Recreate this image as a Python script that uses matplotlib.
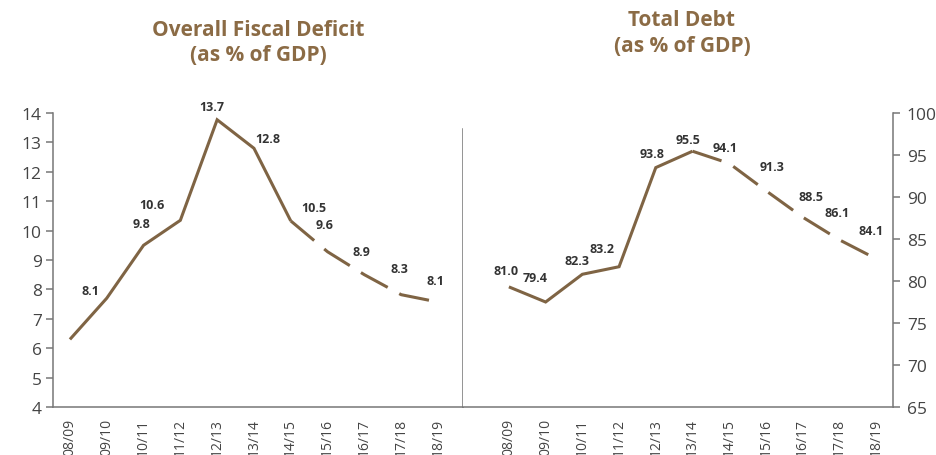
import matplotlib
matplotlib.use("Agg")
import matplotlib.pyplot as plt

# fiscal years on the x axis
years = ["08/09", "09/10", "10/11", "11/12", "12/13", "13/14",
         "14/15", "15/16", "16/17", "17/18", "18/19"]

# overall fiscal deficit (% of GDP), line as drawn
deficit = [6.3, 7.7, 9.5, 10.35, 13.77, 12.8, 10.33, 9.28, 8.5, 7.82, 7.57]
deficit_solid_until = 6   # dashed from here on
deficit_labels = ["8.1", "9.8", "10.6", "13.7", "12.8", "10.5", "9.6", "8.9", "8.3", "8.1"]
deficit_label_idx = [1, 2, 2, 4, 5, 6, 7, 8, 9, 10]

# total debt (% of GDP), line as drawn
debt = [79.3, 77.5, 80.8, 81.7, 93.5, 95.45, 94.0, 90.75, 87.6, 84.9, 82.65]
debt_solid_until = 5
debt_labels = ["81.0", "79.4", "82.3", "83.2", "93.8", "95.5", "94.1", "91.3", "88.5", "86.1", "84.1"]
debt_label_idx = [0, 1, 2, 3, 4, 5, 6, 7, 8, 9, 10]

# label offsets in pixels (dx, dy) from the point they belong to
deficit_off = [(-16, 8), (-2, 22), (8, 41), (-5, 13), (14, 10), (23, 13), (-3, 27), (-3, 23), (-2, 26), (-3, 22)]
debt_off = [(-3, 16), (-10, 24), (-5, 14), (-17, 18), (-4, 14), (-4, 12), (-4, 16), (6, 24), (8, 21), (-2, 27), (-5, 28)]

line_c = "#7f6444"
title_c = "#8b6b45"
txt_c = "#444444"
spine_c = "#777777"
font = "Open Sans"

fig = plt.figure(figsize=(9.36, 4.56), dpi=100)
W, H = 936, 456
bot, top = 1 - 408 / H, 1 - 114 / H
ax1 = fig.add_axes([53 / W, bot, (463 - 53) / W, top - bot])
ax2 = fig.add_axes([463 / W, bot, (893 - 463) / W, top - bot])

x = list(range(len(years)))


def draw(ax, vals, split, labels, idx, offs):
    ax.plot(x[:split + 1], vals[:split + 1], color=line_c, lw=2.2,
            solid_capstyle="butt", solid_joinstyle="miter")
    ax.plot(x[split:], vals[split:], color=line_c, lw=2.2,
            dashes=(10, 4.3), dash_capstyle="butt")
    for t, i, (dx, dy) in zip(labels, idx, offs):
        ax.annotate(t, (x[i], vals[i]), xytext=(dx, dy), textcoords="offset pixels",
                    ha="center", va="center", fontsize=9, fontweight="bold",
                    color="#333333", family=font)
    ax.set_xticks(x)
    ax.set_xticklabels(years, rotation=90, fontsize=10, color=txt_c, family=font)
    ax.tick_params(axis="x", length=0, pad=8)
    for s in ax.spines.values():
        s.set_color(spine_c)
        s.set_linewidth(1.1)


draw(ax1, deficit, deficit_solid_until, deficit_labels, deficit_label_idx, deficit_off)
ax1.set_xlim(-0.46, 10.68)
ax1.set_ylim(4, 14)
ax1.set_yticks(range(4, 15))
ax1.spines["top"].set_visible(False)
ax1.spines["right"].set_bounds(4, 13.45)
ax1.tick_params(axis="y", length=5, width=1.1, color=spine_c, pad=3,
                labelsize=12.5, labelcolor=txt_c)
for lb in ax1.get_yticklabels():
    lb.set_family(font)

draw(ax2, debt, debt_solid_until, debt_labels, debt_label_idx, debt_off)
ax2.set_xlim(-1.25, 10.46)
ax2.set_ylim(65, 100)
ax2.set_yticks(range(65, 101, 5))
ax2.spines["top"].set_visible(False)
ax2.spines["left"].set_visible(False)
ax2.yaxis.tick_right()
ax2.tick_params(axis="y", length=5, width=1.1, color=spine_c, pad=5,
                labelsize=12.5, labelcolor=txt_c)
for lb in ax2.get_yticklabels():
    lb.set_family(font)

tk = dict(ha="center", va="center", fontsize=15, fontweight="bold", color=title_c, family=font)
fig.text(258 / W, 1 - 31 / H, "Overall Fiscal Deficit", **tk)
fig.text(258 / W, 1 - 56 / H, "(as % of GDP)", **tk)
fig.text(682 / W, 1 - 20 / H, "Total Debt", **tk)
fig.text(682 / W, 1 - 46 / H, "(as % of GDP)", **tk)

fig.savefig("out.png", dpi=100)
